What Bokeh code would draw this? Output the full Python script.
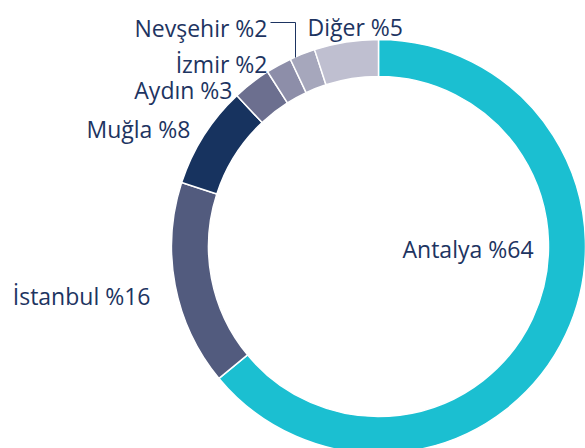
import math
from bokeh.plotting import figure
from bokeh.models import ColumnDataSource, Range1d
from bokeh.core.properties import value
from bokeh.embed import file_html
from bokeh.resources import INLINE

# Data
categories = ["Antalya", "İstanbul", "Muğla", "Aydın", "İzmir", "Nevşehir", "Diğer"]
shares = [64, 16, 8, 3, 2, 2, 5]
colors = ["#1BBFD1", "#525B7E", "#17335F", "#6C6F8F", "#8D8EA9", "#A6A7BC", "#BFBFD0"]

W, H = 585, 448
p = figure(width=W, height=H, output_backend="svg", toolbar_location=None,
           x_range=Range1d(0, W), y_range=Range1d(0, H), min_border=0)
p.axis.visible = False
p.grid.visible = False
p.outline_line_color = None
p.background_fill_color = "white"
p.border_fill_color = "white"

cx, cy = 378, 202
r_out, r_in = 207, 170

total = sum(shares)
starts, ends = [], []
a = math.pi / 2
for s in shares:
    starts.append(a)
    a -= s / total * 2 * math.pi
    ends.append(a)

src = ColumnDataSource(dict(start=starts, end=ends, color=colors))
p.annular_wedge(x=cx, y=cy, inner_radius=r_in, outer_radius=r_out,
                start_angle="start", end_angle="end", direction="clock",
                fill_color="color", line_color="white", line_width=1.5, source=src)

txt_color = "#1D3461"
font = value("Open Sans")
labels = [f"{c} %{v}" for c, v in zip(categories, shares)]

# label positions (figure pixels: x, baseline y) and alignment
pos = {
    "Antalya": (402, 200, "left"),
    "İstanbul": (150, 153, "right"),
    "Muğla": (190, 320, "right"),
    "Aydın": (232, 359, "right"),
    "İzmir": (267, 385, "right"),
    "Nevşehir": (267, 421, "right"),
    "Diğer": (307, 422, "left"),
}
for c, lab in zip(categories, labels):
    x, y, al = pos[c]
    p.text(x=[x], y=[y], text=[lab], text_font=font, text_font_size="23px",
           text_color=txt_color, text_align=al, text_baseline="alphabetic")

# leader line for Nevşehir
p.line(x=[270, 295, 295], y=[426, 426, 391], line_color=txt_color, line_width=1)

open("out.html", "w").write(file_html(p, INLINE))
